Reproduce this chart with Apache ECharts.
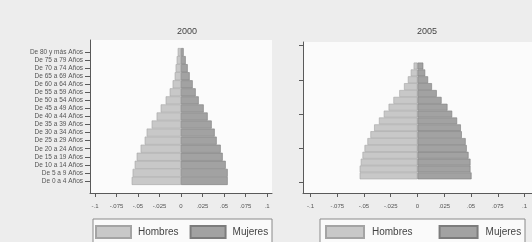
<!DOCTYPE html>
<html>
<head>
<meta charset="utf-8" />
<title></title>
<script src="https://cdn.jsdelivr.net/npm/echarts@6/dist/echarts.min.js"></script>
<style>
html, body { margin: 0; padding: 0; background: #ededed; }
#chart { width: 532px; height: 242px; }
</style>
</head>
<body>
<div id="chart"></div>
<script type="text/javascript">
// grupos de edad, de abajo hacia arriba
var ageGroups = ['De 0 a 4 Años', 'De 5 a 9 Años', 'De 10 a 14 Años', 'De 15 a 19 Años',
	'De 20 a 24 Años', 'De 25 a 29 Años', 'De 30 a 34 Años', 'De 35 a 39 Años',
	'De 40 a 44 Años', 'De 45 a 49 Años', 'De 50 a 54 Años', 'De 55 a 59 Años',
	'De 60 a 64 Años', 'De 65 a 69 Años', 'De 70 a 74 Años', 'De 75 a 79 Años',
	'De 80 y más Años'];
var hombres2000 = [0.0573, 0.0562, 0.0538, 0.0515, 0.0469, 0.0422, 0.0399, 0.0341,
	0.0283, 0.0236, 0.0178, 0.0131, 0.0097, 0.0073, 0.0062, 0.005, 0.0038];
var mujeres2000 = [0.0543, 0.0543, 0.052, 0.0485, 0.0462, 0.0415, 0.0392, 0.0357,
	0.031, 0.0264, 0.0206, 0.0171, 0.0136, 0.0101, 0.0078, 0.0055, 0.0031];
var hombres2005 = [0.054, 0.054, 0.053, 0.0514, 0.0495, 0.0468, 0.044, 0.0405,
	0.036, 0.0315, 0.027, 0.0225, 0.017, 0.0126, 0.009, 0.0063, 0.0036];
var mujeres2005 = [0.0505, 0.0495, 0.0495, 0.0477, 0.046, 0.045, 0.0414, 0.0405,
	0.037, 0.0324, 0.028, 0.0225, 0.018, 0.0135, 0.0099, 0.0072, 0.0054];
var xTicks = [-0.1, -0.075, -0.05, -0.025, 0, 0.025, 0.05, 0.075, 0.1];
var titles = ['2000', '2005'];

function pad(arr, before, after) {
	var out = [];
	for (var i = 0; i < before; i++) out.push(null);
	out = out.concat(arr);
	for (var j = 0; j < after; j++) out.push(null);
	return out;
}
function neg(arr) {
	return arr.map(function(v) { return -v; });
}
function tickLabel(v) {
	if (Math.abs(v) < 1e-9) return '0';
	return String(+v.toFixed(3)).replace('0.', '.');
}

// panel 2000: una banda vacia abajo y arriba
var cat2000 = ['p0'].concat(ageGroups, ['p1']);
// panel 2005: eje numerico 1..17, marcas en 0,5,10,15,20
var cat2005 = [];
for (var k = -1; k <= 20; k++) cat2005.push(String(k));

var axisColor = '#5a5a5a';
var font = 'Liberation Sans, Arial, sans-serif';
var hombresStyle = { color: '#c8c8c8', borderColor: '#a4a4a4', borderWidth: 0.6 };
var mujeresStyle = { color: '#a2a2a2', borderColor: '#7c7c7c', borderWidth: 0.6 };

function xAxisFor(idx, lim) {
	return {
		type: 'value', gridIndex: idx, min: -lim, max: lim,
		axisLine: { show: true, onZero: false, lineStyle: { color: axisColor } },
		axisTick: { show: true, length: 4, customValues: xTicks, lineStyle: { color: axisColor } },
		axisLabel: { customValues: xTicks, formatter: tickLabel, fontSize: 6, color: '#555',
			margin: 10, fontFamily: font },
		splitLine: { show: false }
	};
}

var myChart = echarts.init(document.getElementById('chart'));
myChart.setOption({
	animation: false,
	textStyle: { fontFamily: font },
	title: [
		{ text: titles[0], left: 182, top: 22, textAlign: 'center',
			textStyle: { fontSize: 9, fontWeight: 'normal', color: '#444' } },
		{ text: titles[1], left: 422, top: 22, textAlign: 'center',
			textStyle: { fontSize: 9, fontWeight: 'normal', color: '#444' } }
	],
	graphic: [
		{ type: 'rect', shape: { x: 93, y: 219, width: 179, height: 30 },
			style: { fill: '#fafafa', stroke: '#8a8a8a', lineWidth: 1 } },
		{ type: 'rect', shape: { x: 320, y: 219, width: 205, height: 30 },
			style: { fill: '#fafafa', stroke: '#8a8a8a', lineWidth: 1 } }
	],
	legend: [
		{ data: ['Hombres', 'Mujeres'], left: 95, top: 225, padding: 0,
			itemWidth: 35, itemHeight: 12, itemGap: 11, icon: 'rect',
			textStyle: { fontSize: 10, color: '#444', padding: [0, 0, 0, 2] } },
		{ data: ['Hombres', 'Mujeres'], left: 325, top: 225, padding: 0,
			itemWidth: 38, itemHeight: 12, itemGap: 26, icon: 'rect',
			textStyle: { fontSize: 10, color: '#444', padding: [0, 0, 0, 3] } }
	],
	grid: [
		{ left: 90, top: 40, width: 182, height: 153, show: true,
			backgroundColor: '#fbfbfb', borderWidth: 0 },
		{ left: 303, top: 42, width: 238, height: 151, show: true,
			backgroundColor: '#fbfbfb', borderWidth: 0 }
	],
	xAxis: [xAxisFor(0, 0.1058), xAxisFor(1, 0.107)],
	yAxis: [
		{
			type: 'category', gridIndex: 0, data: cat2000,
			axisLine: { show: true, onZero: false, lineStyle: { color: axisColor } },
			axisTick: { show: true, length: 5, alignWithLabel: true,
				interval: function(i, v) { return v.charAt(0) !== 'p'; },
				lineStyle: { color: axisColor } },
			axisLabel: { interval: 0, fontSize: 6.5, color: '#555', margin: 7,
				formatter: function(v) { return v.charAt(0) === 'p' ? '' : v; } }
		},
		{
			type: 'category', gridIndex: 1, data: cat2005,
			axisLine: { show: true, onZero: false, lineStyle: { color: axisColor } },
			axisTick: { show: true, length: 4, alignWithLabel: true,
				interval: function(i) { return i >= 1 && (i - 1) % 5 === 0; },
				lineStyle: { color: axisColor } },
			axisLabel: { show: false }
		}
	],
	series: [
		{ name: 'Hombres', type: 'bar', xAxisIndex: 0, yAxisIndex: 0, stack: 'a',
			barCategoryGap: 0, itemStyle: hombresStyle, data: pad(neg(hombres2000), 1, 1) },
		{ name: 'Mujeres', type: 'bar', xAxisIndex: 0, yAxisIndex: 0, stack: 'a',
			barCategoryGap: 0, itemStyle: mujeresStyle, data: pad(mujeres2000, 1, 1) },
		{ name: 'Hombres', type: 'bar', xAxisIndex: 1, yAxisIndex: 1, stack: 'b',
			barCategoryGap: 0, itemStyle: hombresStyle, data: pad(neg(hombres2005), 2, 3) },
		{ name: 'Mujeres', type: 'bar', xAxisIndex: 1, yAxisIndex: 1, stack: 'b',
			barCategoryGap: 0, itemStyle: mujeresStyle, data: pad(mujeres2005, 2, 3) }
	]
});
</script>
</body>
</html>
